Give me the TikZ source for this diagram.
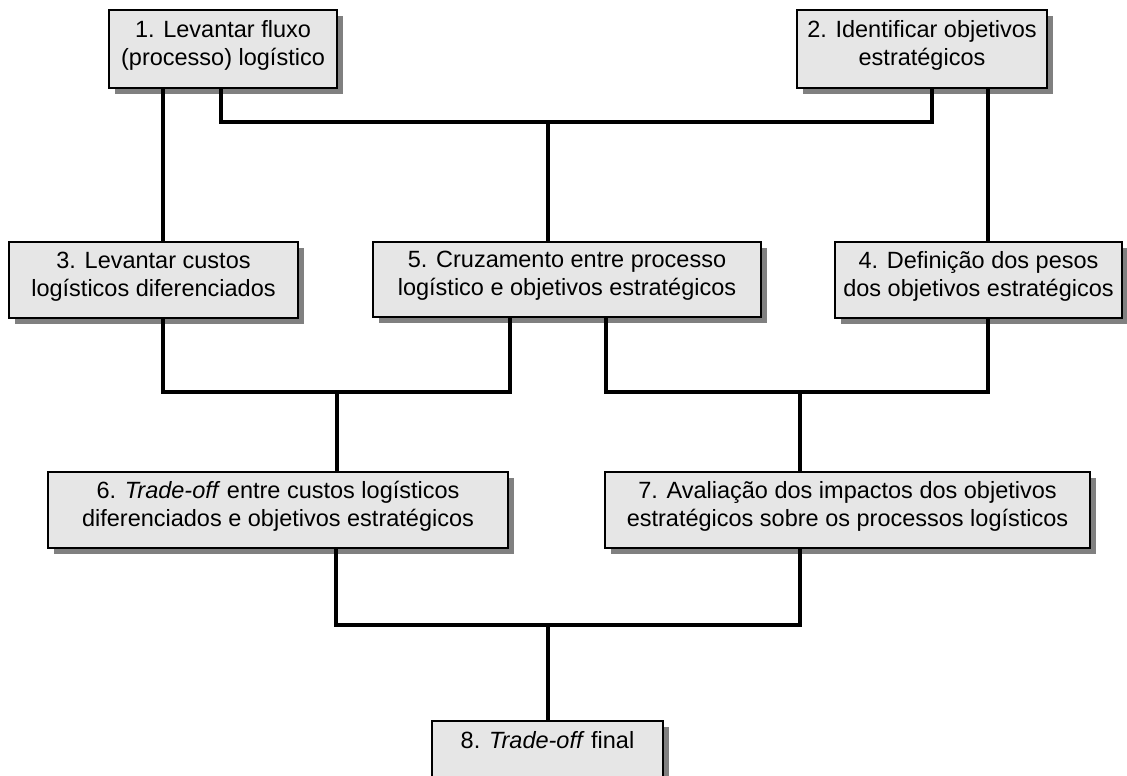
\documentclass[tikz,border=0pt]{standalone}
\usepackage{fontspec}
\setmainfont{Liberation Sans}
\usepackage{tikz}
\usetikzlibrary{shadows}
\definecolor{boxgray}{RGB}{230,230,230}
\definecolor{shadowgray}{RGB}{128,128,128}

\begin{document}
\begin{tikzpicture}
  [x=1pt,y=-1pt,
   every node/.style={rectangle, draw=black, line width=2.5pt, fill=boxgray, align=center,
     inner sep=0pt, font=\fontsize{23.5}{28}\selectfont,
     execute at end node={\rule[-12pt]{0pt}{0pt}},
     drop shadow={shadow xshift=6pt, shadow yshift=-6pt, fill=shadowgray, opacity=1}},
   link/.style={line width=4pt, line cap=rect}]
  \path [use as bounding box, clip] (0,0) rectangle (1127,776);

  \node [minimum width=228pt, minimum height=78pt] (lev) at (223,49) {1. Levantar fluxo\\(processo) logístico};
  \node [minimum width=250pt, minimum height=78pt] (obj) at (922,49) {2. Identificar objetivos\\estratégicos};

  \node [minimum width=289pt, minimum height=76pt] (cus) at (153.5,280) {3. Levantar custos\\logísticos diferenciados};
  \node [minimum width=388pt, minimum height=75pt] (cruz) at (567,279.5) {5. Cruzamento entre processo\\logístico e objetivos estratégicos};
  \node [minimum width=287pt, minimum height=76pt] (pes) at (978.5,280) {4. Definição dos pesos\\dos objetivos estratégicos};

  \node [minimum width=460pt, minimum height=76pt] (tro) at (278,510) {6. \textit{Trade-off} entre custos logísticos\\diferenciados e objetivos estratégicos};
  \node [minimum width=485pt, minimum height=76pt] (ava) at (847.5,510) {7. Avaliação dos impactos dos objetivos\\estratégicos sobre os processos logísticos};

  \node [minimum width=231pt, minimum height=78pt] (fin) at (547.5,760) {8. \textit{Trade-off} final\\\mbox{}};

  % junctions of the branches
  \coordinate (j1) at (548,122);
  \coordinate (j2) at (337,392);
  \coordinate (j3) at (800,392);
  \coordinate (j4) at (548,625);

  % first row
  \draw [link] ([xshift=-60pt]lev.south) -- ([xshift=9.5pt]cus.north);
  \draw [link] ([xshift=-2pt]lev.south) -- ([xshift=-2pt]lev.south |- j1)
    -- ([xshift=10pt]obj.south |- j1) -- ([xshift=10pt]obj.south);
  \draw [link] (j1) -- ([xshift=-19pt]cruz.north);
  \draw [link] ([xshift=66pt]obj.south) -- ([xshift=9.5pt]pes.north);

  % second row
  \draw [link] ([xshift=9.5pt]cus.south) -- ([xshift=9.5pt]cus.south |- j2)
    -- ([xshift=-57pt]cruz.south |- j2) -- ([xshift=-57pt]cruz.south);
  \draw [link] ([xshift=39pt]cruz.south) -- ([xshift=39pt]cruz.south |- j3)
    -- ([xshift=9.5pt]pes.south |- j3) -- ([xshift=9.5pt]pes.south);
  \draw [link] (j2) -- ([xshift=59pt]tro.north);
  \draw [link] (j3) -- ([xshift=-47.5pt]ava.north);

  % third row
  \draw [link] ([xshift=58pt]tro.south) -- ([xshift=58pt]tro.south |- j4)
    -- ([xshift=-47.5pt]ava.south |- j4) -- ([xshift=-47.5pt]ava.south);
  \draw [link] (j4) -- ([xshift=0.5pt]fin.north);
\end{tikzpicture}
\end{document}
